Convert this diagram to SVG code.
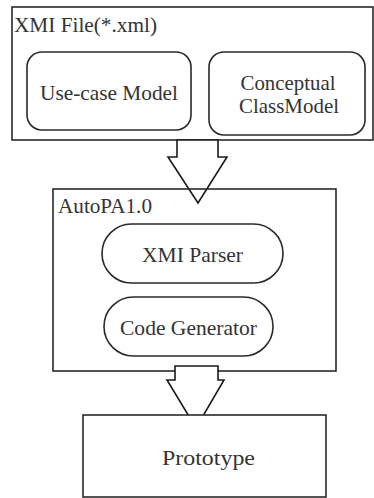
<svg xmlns="http://www.w3.org/2000/svg" width="374" height="498" viewBox="0 0 374 498">
  <style>
    .frame { fill: none; stroke: #2a2a2a; stroke-width: 1.6; }
    .box { fill: #ffffff; stroke: #2a2a2a; stroke-width: 1.6; }
    .block { fill: #ffffff; stroke: #1a1a1a; stroke-width: 1.6; stroke-linejoin: miter; }
    .lbl { font-family: 'Liberation Serif', 'Times New Roman', serif; font-size: 22px; fill: #333333; }
    .mid { text-anchor: middle; }
  </style>
  <rect width="374" height="498" fill="#ffffff"/>

  <!-- input file with its two models -->
  <g id="xmi-file">
    <rect class="frame" x="12" y="7" width="361" height="133"/>
    <text class="lbl" x="14" y="32" textLength="143" lengthAdjust="spacingAndGlyphs">XMI File(*.xml)</text>
  </g>
  <g id="use-case-model">
    <rect class="box" x="27" y="52" width="164" height="78" rx="15"/>
    <text class="lbl mid" x="109" y="100" textLength="138" lengthAdjust="spacingAndGlyphs">Use-case Model</text>
  </g>
  <g id="conceptual-class-model">
    <rect class="box" x="209" y="52" width="156" height="83" rx="15"/>
    <text class="lbl mid" x="288" y="90" textLength="95" lengthAdjust="spacingAndGlyphs">Conceptual</text>
    <text class="lbl mid" x="289" y="113" textLength="100" lengthAdjust="spacingAndGlyphs">ClassModel</text>
  </g>

  <!-- block arrows between stages -->
  <g id="connectors">
    <polygon id="arrow-xmi-to-autopa" class="block" points="177,140 218,140 218,157 227,157 198,203 168,157 177,157"/>
  </g>

  <!-- tool container -->
  <g id="autopa">
    <rect class="frame" x="53" y="189" width="283" height="182"/>
    <text class="lbl" x="58" y="213" textLength="94" lengthAdjust="spacingAndGlyphs">AutoPA1.0</text>
  </g>
  <g id="xmi-parser">
    <rect class="box" x="102" y="224" width="181" height="59" rx="29.5"/>
    <text class="lbl mid" x="192.5" y="262" textLength="101" lengthAdjust="spacingAndGlyphs">XMI Parser</text>
  </g>
  <g id="code-generator">
    <rect class="box" x="104" y="297" width="169" height="59" rx="29.5"/>
    <text class="lbl mid" x="188.5" y="335" textLength="137" lengthAdjust="spacingAndGlyphs">Code Generator</text>
  </g>

  <g id="connectors-lower">
    <polygon id="arrow-autopa-to-prototype" class="block" points="175,366 218,366 218,380 224,380 196,428 167,380 175,380"/>
  </g>

  <!-- output -->
  <g id="prototype">
    <rect class="box" x="83" y="415" width="243" height="82"/>
    <text class="lbl mid" x="208.5" y="465" textLength="93" lengthAdjust="spacingAndGlyphs">Prototype</text>
  </g>
</svg>
